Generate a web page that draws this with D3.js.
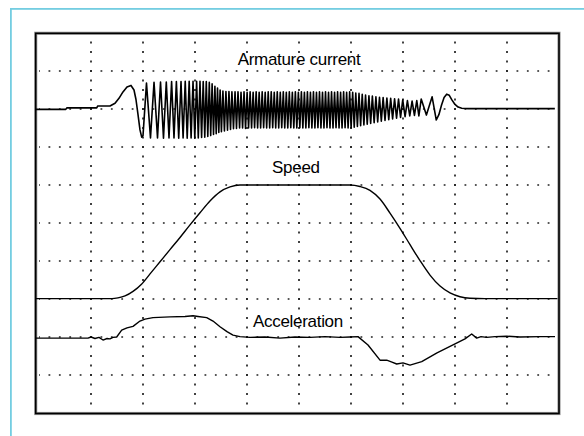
<!DOCTYPE html>
<html>
<head>
<meta charset="utf-8">
<script src="https://cdn.jsdelivr.net/npm/d3@7"></script>
<style>
body { margin: 0; background: #fff; }
svg { display: block; }
</style>
</head>
<body>
<script>
// time in 1/10 division units (0..100), value in divisions from the bottom (0..10)
var labels = ["Armature current", "Speed", "Acceleration"];

var speed = [
    [-0.6, 3.01], [14.04, 3.01], [15.19, 3.03], [16.54, 3.08], [18.08, 3.2],
    [19.71, 3.39], [21.35, 3.66], [23.27, 3.98], [25.19, 4.3], [27.12, 4.62],
    [29.04, 4.95], [30.96, 5.27], [32.88, 5.58], [34.81, 5.82], [36.73, 5.95],
    [38.65, 6.0], [59.81, 6.0], [61.73, 5.96], [63.65, 5.86], [65.58, 5.63],
    [67.5, 5.26], [69.42, 4.86], [71.35, 4.43], [73.27, 4.01], [75.19, 3.63],
    [77.12, 3.34], [79.04, 3.16], [80.96, 3.06], [82.88, 3.02], [85.77, 3.01],
    [99.7, 3.01]
];

var acceleration = [
    [-0.6, 1.97], [9.42, 1.97], [10.0, 2.0], [10.77, 1.96], [11.54, 1.99],
    [12.31, 1.92], [13.08, 1.96], [13.65, 1.95], [14.23, 1.99], [14.94, 2.0],
    [15.9, 2.18], [16.92, 2.24], [18.08, 2.28], [19.42, 2.42], [20.38, 2.47],
    [21.92, 2.51], [25.19, 2.53], [28.08, 2.54], [29.62, 2.56], [30.58, 2.54],
    [32.25, 2.51], [33.46, 2.42], [34.81, 2.27], [36.15, 2.14], [37.31, 2.05],
    [38.65, 2.01], [40.58, 1.99], [43.46, 2.0], [46.35, 1.97], [49.23, 2.0],
    [52.12, 1.99], [55.0, 2.01], [57.88, 1.99], [59.81, 2.0], [61.35, 2.01],
    [63.27, 1.79], [65.58, 1.39], [66.87, 1.39], [67.88, 1.34], [68.79, 1.29],
    [70.0, 1.32], [71.35, 1.26], [73.6, 1.35], [76.54, 1.58], [79.62, 1.79],
    [81.92, 1.95], [83.21, 2.08], [84.17, 1.97], [85.0, 2.01], [86.1, 1.99],
    [87.69, 2.01], [89.94, 2.02], [92.5, 2.0], [96.35, 2.01], [99.23, 2.01]
];

var current = [
    // quiet start and first swing
    [-0.6, 7.99], [5.15, 7.99], [5.35, 8.03], [11.1, 8.03], [11.3, 8.08],
    [13.65, 8.08], [14.62, 8.15], [15.38, 8.28], [16.15, 8.45], [16.92, 8.58],
    [17.69, 8.62], [18.27, 8.5], [18.65, 8.25], [19.04, 7.85], [19.42, 7.45],
    [19.75, 7.26], [20.0, 7.3],
    // chirp
    [20.67, 8.68], [21.44, 7.24], [22.12, 8.7], [22.79, 7.24], [23.37, 8.71],
    [23.94, 7.23], [24.48, 8.71], [25.0, 7.24], [25.5, 8.72], [25.96, 7.24],
    [26.42, 8.72], [26.87, 7.23], [27.31, 8.72], [27.71, 7.24], [28.12, 8.73],
    [28.5, 7.23], [28.88, 8.73], [29.25, 7.24], [29.62, 8.73], [29.96, 7.23],
    [30.31, 8.73], [30.63, 7.24], [30.96, 8.73], [31.27, 7.25], [31.58, 8.72],
    [31.88, 7.26], [32.17, 8.72], [32.46, 7.28], [32.75, 8.7], [33.02, 7.3],
    [33.29, 8.66], [33.56, 7.33], [33.83, 8.6], [34.08, 7.35], [34.33, 8.55],
    [34.58, 7.38], [34.83, 8.5], [35.08, 7.4],
    // dense steady band
    [35.37, 8.47], [35.66, 7.42], [35.95, 8.46], [36.25, 7.44], [36.53, 8.46],
    [36.83, 7.46], [37.1, 8.45], [37.4, 7.48], [37.7, 8.45], [37.98, 7.49],
    [38.27, 8.45], [38.57, 7.5], [38.85, 8.44], [39.15, 7.5], [39.43, 8.45],
    [39.72, 7.49], [40.02, 8.44], [40.3, 7.5], [40.6, 8.45], [40.88, 7.5],
    [41.18, 8.44], [41.46, 7.51], [41.76, 8.45], [42.04, 7.5], [42.34, 8.44],
    [42.62, 7.5], [42.92, 8.45], [43.2, 7.51], [43.5, 8.44], [43.78, 7.5],
    [44.08, 8.45], [44.36, 7.5], [44.66, 8.45], [44.94, 7.51], [45.24, 8.44],
    [45.52, 7.5], [45.82, 8.45], [46.1, 7.5], [46.4, 8.44], [46.68, 7.51],
    [46.98, 8.45], [47.26, 7.5], [47.56, 8.44], [47.84, 7.5], [48.14, 8.45],
    [48.42, 7.51], [48.72, 8.44], [49.0, 7.5], [49.3, 8.45], [49.58, 7.5],
    [49.88, 8.44], [50.16, 7.51], [50.46, 8.45], [50.74, 7.5], [51.04, 8.44],
    [51.32, 7.5], [51.62, 8.45], [51.9, 7.51], [52.2, 8.44], [52.48, 7.5],
    [52.78, 8.45], [53.06, 7.5], [53.36, 8.44], [53.64, 7.51], [53.94, 8.45],
    [54.22, 7.5], [54.52, 8.44], [54.8, 7.5], [55.1, 8.45], [55.38, 7.51],
    [55.68, 8.44], [55.96, 7.5], [56.26, 8.45], [56.54, 7.5], [56.84, 8.44],
    [57.12, 7.51], [57.42, 8.45], [57.7, 7.5], [58.0, 8.44], [58.28, 7.5],
    [58.58, 8.45], [58.86, 7.51], [59.16, 8.44], [59.44, 7.5], [59.74, 8.45],
    [60.02, 7.5], [60.32, 8.44],
    // taper
    [60.62, 7.52], [60.92, 8.42], [61.23, 7.54], [61.54, 8.41], [61.85, 7.56],
    [62.16, 8.39], [62.48, 7.58], [62.8, 8.37], [63.12, 7.6], [63.45, 8.35],
    [63.78, 7.62], [64.11, 8.34], [64.45, 7.64], [64.79, 8.32], [65.13, 7.66],
    [65.48, 8.31], [65.83, 7.68], [66.18, 8.3], [66.54, 7.7], [66.9, 8.29],
    [67.26, 7.72], [67.63, 8.28], [68.0, 7.74], [68.38, 8.27], [68.76, 7.76],
    [69.14, 8.26], [69.53, 7.78], [69.95, 8.24], [70.4, 7.8], [70.85, 8.22],
    [71.3, 7.82], [71.75, 8.21], [72.2, 7.83], [72.65, 8.22], [73.05, 7.82],
    [73.5, 8.26], [74.5, 7.84], [75.6, 8.32], [76.4, 7.71],
    // last swing and settle
    [76.9, 7.85], [77.4, 8.1], [77.9, 8.3], [78.4, 8.39], [78.9, 8.36],
    [79.4, 8.24], [80.0, 8.12], [80.6, 8.05], [81.3, 8.02], [82.5, 8.01],
    [99.2, 8.01]
];

var w = 584;
var h = 436;

var svg = d3.select("body")
    .append("svg")
    .attr("width", w)
    .attr("height", h);

svg.append("rect")
    .attr("width", w)
    .attr("height", h)
    .attr("fill", "#fff");

// page border, only top and left sides fall inside the picture
svg.append("rect")
    .attr("x", 10.9)
    .attr("y", 8.9)
    .attr("width", w + 40)
    .attr("height", h + 40)
    .attr("fill", "none")
    .attr("stroke", "#74cde1")
    .attr("stroke-width", 1.8);

var xScale = d3.scaleLinear()
    .domain([0, 100])
    .range([39, 559]);

var yScale = d3.scaleLinear()
    .domain([0, 10])
    .range([413, 33]);

// dotted graticule
var grid = svg.append("g");

grid.selectAll("line.v")
    .data(xScale.ticks(10).slice(1, -1))
    .enter()
    .append("line")
    .attr("class", "v")
    .attr("x1", function(d) { return xScale(d); })
    .attr("x2", function(d) { return xScale(d); })
    .attr("y1", yScale(10))
    .attr("y2", yScale(0))
    .attr("stroke", "#222")
    .attr("stroke-width", 1.7)
    .attr("stroke-dasharray", "1.8 7.7")
    .attr("stroke-dashoffset", 0.9);

grid.selectAll("line.h")
    .data(yScale.ticks(10).slice(1, -1))
    .enter()
    .append("line")
    .attr("class", "h")
    .attr("x1", xScale(0))
    .attr("x2", xScale(100))
    .attr("y1", function(d) { return yScale(d); })
    .attr("y2", function(d) { return yScale(d); })
    .attr("stroke", "#222")
    .attr("stroke-width", 1.7)
    .attr("stroke-dasharray", "1.8 8.6")
    .attr("stroke-dashoffset", 0.9);

// frame
var fx = xScale(0) - 3.3;
var fy = yScale(10) + 0.3;
var fw = xScale(100) - fx;
var fh = yScale(0) + 0.5 - fy;

svg.append("rect")
    .attr("x", fx).attr("y", fy)
    .attr("width", fw).attr("height", fh)
    .attr("fill", "none")
    .attr("stroke", "#999")
    .attr("stroke-width", 3.2);

svg.append("rect")
    .attr("x", fx).attr("y", fy)
    .attr("width", fw).attr("height", fh)
    .attr("fill", "none")
    .attr("stroke", "#000")
    .attr("stroke-width", 1.6);

var line = d3.line()
    .x(function(d) { return xScale(d[0]); })
    .y(function(d) { return yScale(d[1]); });

var smooth = d3.line()
    .curve(d3.curveMonotoneX)
    .x(function(d) { return xScale(d[0]); })
    .y(function(d) { return yScale(d[1]); });

svg.append("path")
    .attr("d", line(current))
    .attr("fill", "none")
    .attr("stroke", "#000")
    .attr("stroke-width", 1.6)
    .attr("stroke-linejoin", "round");

svg.append("path")
    .attr("d", smooth(speed))
    .attr("fill", "none")
    .attr("stroke", "#000")
    .attr("stroke-width", 1.4);

svg.append("path")
    .attr("d", line(acceleration))
    .attr("fill", "none")
    .attr("stroke", "#000")
    .attr("stroke-width", 1.4)
    .attr("stroke-linejoin", "round");

// trace titles
var labelPos = [[50, 9.16], [49.4, 6.32], [49.8, 2.27]];

svg.selectAll("text.title")
    .data(labels)
    .enter()
    .append("text")
    .attr("class", "title")
    .attr("x", function(d, i) { return xScale(labelPos[i][0]); })
    .attr("y", function(d, i) { return yScale(labelPos[i][1]); })
    .attr("text-anchor", "middle")
    .attr("font-family", "'Liberation Sans', Arial, sans-serif")
    .attr("font-size", 17)
    .attr("letter-spacing", -0.3)
    .attr("fill", "#000")
    .text(function(d) { return d; });
</script>
</body>
</html>
